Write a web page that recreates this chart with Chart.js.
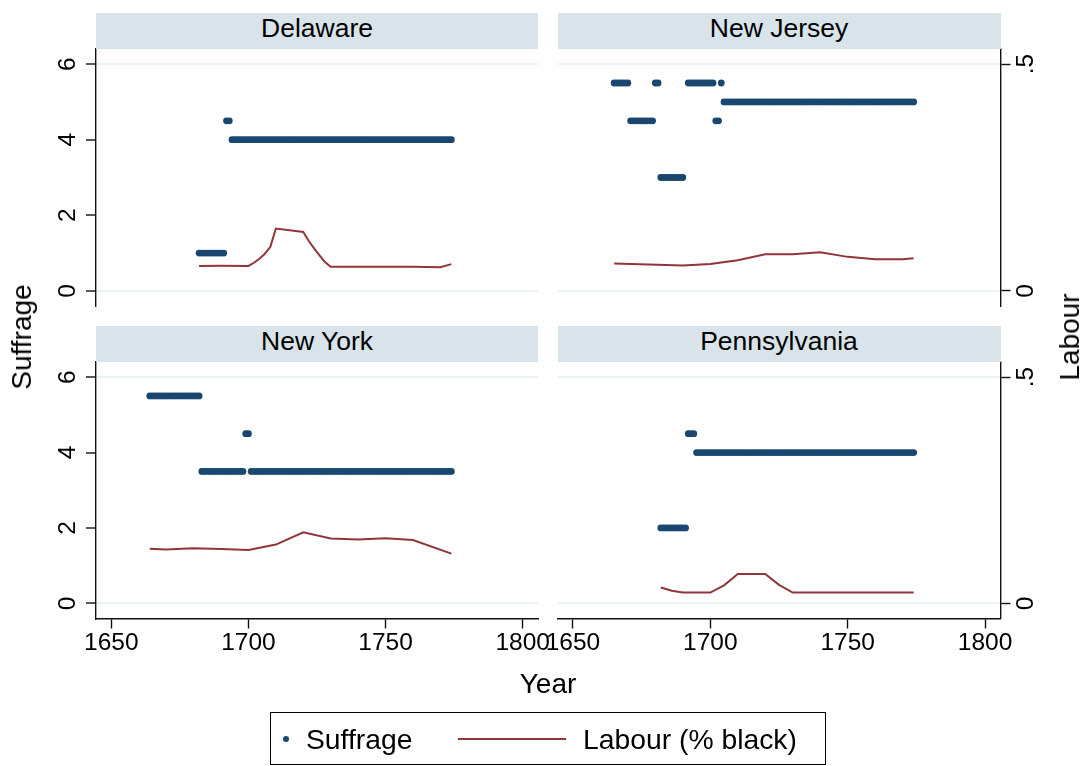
<!DOCTYPE html>
<html>
<head>
<meta charset="utf-8">
<script src="https://cdn.jsdelivr.net/npm/chart.js@4.4.1/dist/chart.umd.min.js"></script>
<style>
  html, body { margin: 0; padding: 0; background: #fff; }
  #page { position: relative; width: 1088px; height: 766px; overflow: hidden;
          font-family: "Liberation Sans", Arial, sans-serif; color: #000; }
  #page canvas { position: absolute; left: 0; top: 0; }
  .strip { position: absolute; background: #d8e4ea; text-align: center; font-size: 26.5px;
           line-height: 26.5px; padding-top: 1.5px; box-sizing: border-box; height: 36px; }
  .title { position: absolute; font-size: 28px; line-height: 28px; white-space: nowrap; }
  .vtitle { transform: translate(-50%, -50%) rotate(-90deg); }
  #legend { position: absolute; left: 270px; top: 712px; width: 556px; height: 53px;
            border: 1px solid #000; box-sizing: border-box; }
  #legend .txt { position: absolute; font-size: 28.3px; line-height: 28px; white-space: nowrap; }
  #legend .dot { position: absolute; width: 6px; height: 6px; border-radius: 50%; background: #1a476f; }
  #legend .ln { position: absolute; height: 2px; background: #90353b; }
</style>
</head>
<body>
<div id="page">
  <div class="title vtitle" style="left:22px; top:337px;">Suffrage</div>
  <div class="title vtitle" style="left:1070px; top:337px;">Labour</div>
  <div class="title" style="left:0; width:1096px; text-align:center; top:670px;">Year</div>
  <div id="legend">
    <div class="dot" style="left:12px; top:23px;"></div>
    <div class="txt" style="left:35px; top:12px;">Suffrage</div>
    <div class="ln" style="left:187px; width:108px; top:25px;"></div>
    <div class="txt" style="left:312px; top:12px;">Labour (% black)</div>
  </div>
</div>
<script>
// ---- data -------------------------------------------------------------
const stateNames = ['Delaware', 'New Jersey', 'New York', 'Pennsylvania'];

const xTicks = [1650, 1700, 1750, 1800];
const xTickLabels = ['1650', '1700', '1750', '1800'];
const suffrageTicks = [0, 2, 4, 6];
const suffrageTickLabels = ['0', '2', '4', '6'];
const labourTicks = [0, 0.5];
const labourTickLabels = ['0', '.5'];

// Suffrage code, one value per year starting at the *From year (null = no record)
const delawareFrom = 1682;
const delawareSuffrage = [
  1, 1, 1, 1, 1, 1, 1, 1, 1, 1,
  4.5, 4.5,
  4, 4, 4, 4, 4, 4, 4, 4, 4, 4,
  4, 4, 4, 4, 4, 4, 4, 4, 4, 4,
  4, 4, 4, 4, 4, 4, 4, 4, 4, 4,
  4, 4, 4, 4, 4, 4, 4, 4, 4, 4,
  4, 4, 4, 4, 4, 4, 4, 4, 4, 4,
  4, 4, 4, 4, 4, 4, 4, 4, 4, 4,
  4, 4, 4, 4, 4, 4, 4, 4, 4, 4,
  4, 4, 4, 4, 4, 4, 4, 4, 4, 4,
  4
];

const newJerseyFrom = 1665;
const newJerseySuffrage = [
  5.5, 5.5, 5.5, 5.5, 5.5, 5.5,
  4.5, 4.5, 4.5, 4.5, 4.5, 4.5, 4.5, 4.5, 4.5,
  5.5, 5.5,
  3, 3, 3, 3, 3, 3, 3, 3, 3,
  null,
  5.5, 5.5, 5.5, 5.5, 5.5, 5.5, 5.5, 5.5, 5.5, 5.5,
  4.5, 4.5,
  5.5,
  5, 5, 5, 5, 5, 5, 5, 5, 5, 5,
  5, 5, 5, 5, 5, 5, 5, 5, 5, 5,
  5, 5, 5, 5, 5, 5, 5, 5, 5, 5,
  5, 5, 5, 5, 5, 5, 5, 5, 5, 5,
  5, 5, 5, 5, 5, 5, 5, 5, 5, 5,
  5, 5, 5, 5, 5, 5, 5, 5, 5, 5,
  5, 5, 5, 5, 5, 5, 5, 5, 5, 5
];

const newYorkFrom = 1664;
const newYorkSuffrage = [
  5.5, 5.5, 5.5, 5.5, 5.5, 5.5, 5.5, 5.5, 5.5, 5.5,
  5.5, 5.5, 5.5, 5.5, 5.5, 5.5, 5.5, 5.5, 5.5,
  3.5, 3.5, 3.5, 3.5, 3.5, 3.5, 3.5, 3.5, 3.5, 3.5,
  3.5, 3.5, 3.5, 3.5, 3.5, 3.5,
  4.5, 4.5,
  3.5, 3.5, 3.5, 3.5, 3.5, 3.5, 3.5, 3.5, 3.5, 3.5,
  3.5, 3.5, 3.5, 3.5, 3.5, 3.5, 3.5, 3.5, 3.5, 3.5,
  3.5, 3.5, 3.5, 3.5, 3.5, 3.5, 3.5, 3.5, 3.5, 3.5,
  3.5, 3.5, 3.5, 3.5, 3.5, 3.5, 3.5, 3.5, 3.5, 3.5,
  3.5, 3.5, 3.5, 3.5, 3.5, 3.5, 3.5, 3.5, 3.5, 3.5,
  3.5, 3.5, 3.5, 3.5, 3.5, 3.5, 3.5, 3.5, 3.5, 3.5,
  3.5, 3.5, 3.5, 3.5, 3.5, 3.5, 3.5, 3.5, 3.5, 3.5,
  3.5, 3.5, 3.5, 3.5
];

const pennsylvaniaFrom = 1682;
const pennsylvaniaSuffrage = [
  2, 2, 2, 2, 2, 2, 2, 2, 2, 2,
  4.5, 4.5, 4.5,
  4, 4, 4, 4, 4, 4, 4, 4, 4, 4,
  4, 4, 4, 4, 4, 4, 4, 4, 4, 4,
  4, 4, 4, 4, 4, 4, 4, 4, 4, 4,
  4, 4, 4, 4, 4, 4, 4, 4, 4, 4,
  4, 4, 4, 4, 4, 4, 4, 4, 4, 4,
  4, 4, 4, 4, 4, 4, 4, 4, 4, 4,
  4, 4, 4, 4, 4, 4, 4, 4, 4, 4,
  4, 4, 4, 4, 4, 4, 4, 4, 4, 4
];

// Share of black labour (fraction), by year
const delawareLabourYears = [1682, 1690, 1700, 1702, 1704, 1706, 1708, 1710, 1720, 1722, 1724, 1726, 1728, 1730, 1740, 1750, 1760, 1770, 1774];
const delawareLabour      = [0.055, 0.0555, 0.055, 0.062, 0.071, 0.082, 0.097, 0.1375, 0.130, 0.110, 0.093, 0.078, 0.063, 0.053, 0.053, 0.053, 0.053, 0.052, 0.059];

const newJerseyLabourYears = [1665, 1690, 1700, 1710, 1720, 1730, 1740, 1750, 1760, 1770, 1774];
const newJerseyLabour      = [0.0605, 0.056, 0.0595, 0.0675, 0.0805, 0.081, 0.085, 0.075, 0.070, 0.070, 0.072];

const newYorkLabourYears = [1664, 1670, 1680, 1690, 1700, 1710, 1720, 1730, 1740, 1750, 1760, 1774];
const newYorkLabour      = [0.1208, 0.119, 0.122, 0.120, 0.118, 0.130, 0.157, 0.1435, 0.141, 0.144, 0.140, 0.110];

const pennsylvaniaLabourYears = [1682, 1686, 1690, 1700, 1705, 1710, 1720, 1725, 1730, 1774];
const pennsylvaniaLabour      = [0.035, 0.028, 0.024, 0.024, 0.040, 0.065, 0.065, 0.041, 0.024, 0.024];

// ---- look -------------------------------------------------------------
const NAVY = '#1a476f';
const MAROON = '#90353b';
const AXIS = '#111';
const GRID = 'rgb(234,242,243)';
const FONT = '"Liberation Sans", Arial, sans-serif';
const TICK_SIZE = 24.5;

const X_MIN = 1644.4, X_MAX = 1805.6;
const SUFFRAGE_MIN = -0.4, SUFFRAGE_MAX = 6.4;
// labour axis is the suffrage axis divided by 12, so .5 sits level with 6
const LABOUR_MIN = SUFFRAGE_MIN / 12, LABOUR_MAX = SUFFRAGE_MAX / 12;

const W = 1088, H = 766;
const X_AXIS_BAND = 60;   // room kept under bottom-row panels for year labels

// plot boxes: [left, top, right, bottom]
const panels = [
  { name: stateNames[0], from: delawareFrom, suffrage: delawareSuffrage, lYears: delawareLabourYears, labour: delawareLabour,
    box: [96, 49, 538, 306], left: true, right: false, bottom: false },
  { name: stateNames[1], from: newJerseyFrom, suffrage: newJerseySuffrage, lYears: newJerseyLabourYears, labour: newJerseyLabour,
    box: [557.5, 49, 1000.5, 306], left: false, right: true, bottom: false },
  { name: stateNames[2], from: newYorkFrom, suffrage: newYorkSuffrage, lYears: newYorkLabourYears, labour: newYorkLabour,
    box: [96, 362, 538, 618.5], left: true, right: false, bottom: true },
  { name: stateNames[3], from: pennsylvaniaFrom, suffrage: pennsylvaniaSuffrage, lYears: pennsylvaniaLabourYears, labour: pennsylvaniaLabour,
    box: [557.5, 362, 1000.5, 618.5], left: false, right: true, bottom: true }
];

// vertical tick labels, reading bottom to top
const rotatedTicks = {
  id: 'rotatedTicks',
  afterDraw(chart, args, opts) {
    const ctx = chart.ctx;
    const area = chart.chartArea;
    ctx.save();
    ctx.font = TICK_SIZE + 'px ' + FONT;
    ctx.fillStyle = '#000';
    ctx.textAlign = 'center';
    ctx.textBaseline = 'alphabetic';
    (opts.axes || []).forEach(a => {
      const sc = chart.scales[a.id];
      const x = a.side === 'left' ? area.left - 21 : area.right + 32;
      sc.ticks.forEach((t, i) => {
        const y = sc.getPixelForValue(t.value);
        ctx.save();
        ctx.translate(x, y);
        ctx.rotate(-Math.PI / 2);
        ctx.fillText(a.labels[i], 0, 0);
        ctx.restore();
      });
    });
    ctx.restore();
  }
};

const page = document.getElementById('page');

panels.forEach(p => {
  const [L, T, R, B] = p.box;

  const strip = document.createElement('div');
  strip.className = 'strip';
  strip.style.left = L + 'px';
  strip.style.width = (R - L) + 'px';
  strip.style.top = (T - 36) + 'px';
  strip.textContent = p.name;
  page.appendChild(strip);

  const canvas = document.createElement('canvas');
  canvas.width = W;
  canvas.height = H;
  page.insertBefore(canvas, page.firstChild);

  const suffragePoints = [];
  p.suffrage.forEach((v, i) => { if (v !== null) suffragePoints.push({ x: p.from + i, y: v }); });
  const labourPoints = p.lYears.map((yr, i) => ({ x: yr, y: p.labour[i] }));

  const labelAxes = [];
  if (p.left) labelAxes.push({ id: 'y', side: 'left', labels: suffrageTickLabels });
  if (p.right) labelAxes.push({ id: 'y1', side: 'right', labels: labourTickLabels });

  const band = p.bottom ? X_AXIS_BAND : 0;

  new Chart(canvas, {
    type: 'line',
    data: {
      datasets: [
        { label: 'Suffrage', data: suffragePoints, yAxisID: 'y', showLine: false,
          pointRadius: 3.4, pointBorderWidth: 0, pointBackgroundColor: NAVY, borderColor: NAVY },
        { label: 'Labour (% black)', data: labourPoints, yAxisID: 'y1', showLine: true,
          borderColor: MAROON, borderWidth: 2, pointRadius: 0, tension: 0, fill: false }
      ]
    },
    options: {
      responsive: false,
      animation: false,
      devicePixelRatio: 1,
      events: [],
      layout: { padding: { left: L, top: T, right: W - R, bottom: H - B - band } },
      plugins: {
        legend: { display: false },
        tooltip: { enabled: false },
        rotatedTicks: { axes: labelAxes }
      },
      scales: {
        x: {
          type: 'linear', min: X_MIN, max: X_MAX, display: p.bottom,
          afterBuildTicks: s => { s.ticks = xTicks.map(v => ({ value: v })); },
          afterFit: s => { s.height = band; },
          grid: { drawOnChartArea: false, drawTicks: true, tickLength: 10, tickColor: AXIS, tickWidth: 1.4 },
          border: { display: true, color: AXIS, width: 1.4 },
          ticks: { autoSkip: false, maxRotation: 0, minRotation: 0, padding: 0, color: '#000',
                   font: { family: FONT, size: TICK_SIZE }, callback: (v, i) => xTickLabels[i] }
        },
        y: {
          type: 'linear', position: 'left', min: SUFFRAGE_MIN, max: SUFFRAGE_MAX,
          afterBuildTicks: s => { s.ticks = suffrageTicks.map(v => ({ value: v })); },
          afterFit: s => { s.width = 0; },
          grid: {
            color: c => (c.tick && (c.tick.value === 0 || c.tick.value === 6)) ? GRID : 'rgba(0,0,0,0)',
            lineWidth: 2, drawTicks: p.left, tickLength: 10, tickColor: AXIS, tickWidth: 1.4
          },
          border: { display: p.left, color: AXIS, width: 1.4 },
          ticks: { display: false }
        },
        y1: {
          type: 'linear', position: 'right', min: LABOUR_MIN, max: LABOUR_MAX,
          afterBuildTicks: s => { s.ticks = labourTicks.map(v => ({ value: v })); },
          afterFit: s => { s.width = 0; },
          grid: { drawOnChartArea: false, drawTicks: p.right, tickLength: 10, tickColor: AXIS, tickWidth: 1.4 },
          border: { display: p.right, color: AXIS, width: 1.4 },
          ticks: { display: false }
        }
      }
    },
    plugins: [rotatedTicks]
  });
});
</script>
</body>
</html>
